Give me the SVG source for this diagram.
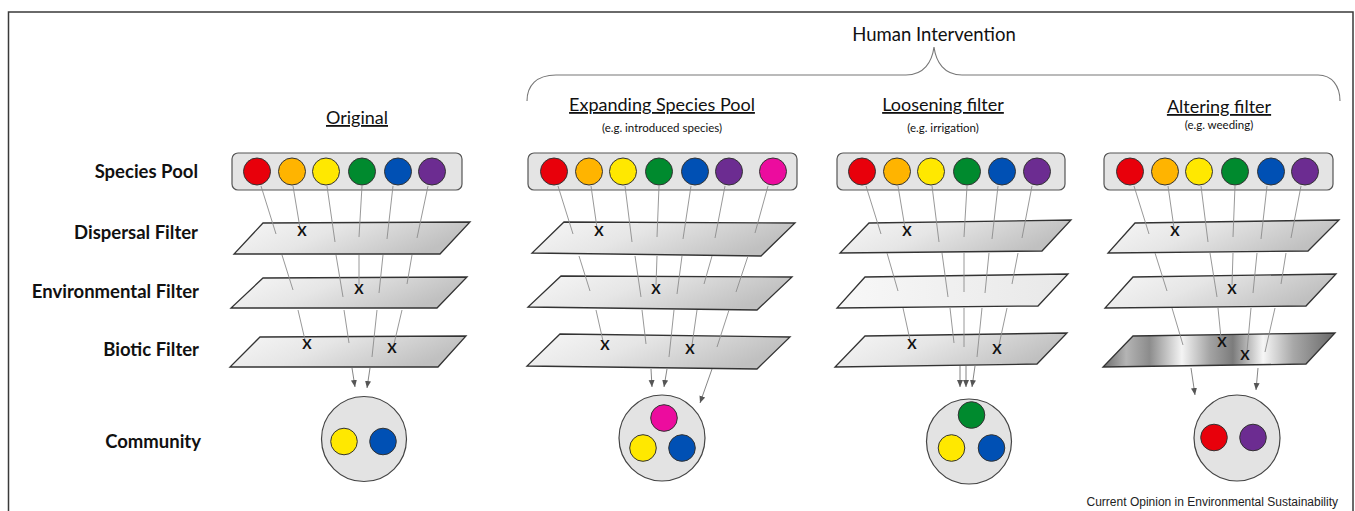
<svg xmlns="http://www.w3.org/2000/svg" width="1355" height="511" viewBox="0 0 1355 511">
<defs>
<linearGradient id="gPlane" x1="0" y1="0" x2="1" y2="0.3">
<stop offset="0" stop-color="#f7f7f7"/><stop offset="0.45" stop-color="#e6e6e6"/><stop offset="1" stop-color="#c0c0c0"/>
</linearGradient>
<linearGradient id="gLight" x1="0" y1="0" x2="1" y2="0">
<stop offset="0" stop-color="#f8f8f8"/><stop offset="1" stop-color="#e8e8e8"/>
</linearGradient>
<linearGradient id="gDark" x1="0" y1="0" x2="1" y2="0">
<stop offset="0" stop-color="#6c6c6c"/><stop offset="0.1" stop-color="#b4b4b4"/><stop offset="0.2" stop-color="#8c8c8c"/><stop offset="0.34" stop-color="#f4f4f4"/><stop offset="0.46" stop-color="#a4a4a4"/><stop offset="0.56" stop-color="#7c7c7c"/><stop offset="0.69" stop-color="#f6f6f6"/><stop offset="0.82" stop-color="#a8a8a8"/><stop offset="1" stop-color="#686868"/>
</linearGradient>
<marker id="ah" markerWidth="8" markerHeight="8" refX="7" refY="4" orient="auto" markerUnits="userSpaceOnUse">
<path d="M0,1 L7,4 L0,7 Z" fill="#555"/>
</marker>
</defs>
<style>
.frame{fill:none;stroke:#3a3a3a;stroke-width:1.5}
.pool{fill:#e4e4e4;stroke:#555;stroke-width:1.2}
.plane{stroke:#333;stroke-width:1.3;fill:url(#gPlane)}
.sp{stroke:#333;stroke-width:1}
.comm{fill:#e3e3e3;stroke:#444;stroke-width:1.2}
.ln{stroke:#8c8c8c;stroke-width:0.9;fill:none}
.ar{stroke:#777;stroke-width:0.9;fill:none;marker-end:url(#ah)}
.x{font-family:Lato,"Liberation Sans",sans-serif;font-weight:bold;font-size:14px;fill:#111;text-anchor:middle}
.row{font-family:Lato,"Liberation Sans",sans-serif;font-weight:bold;font-size:18.5px;fill:#111;text-anchor:end}
.hd{font-family:Lato,"Liberation Sans",sans-serif;font-size:18px;fill:#111;text-anchor:middle;text-decoration:underline}
.sub{font-family:Lato,"Liberation Sans",sans-serif;font-size:11.5px;fill:#111;text-anchor:middle}
.r{fill:#e8000b}.o{fill:#ffb400}.y{fill:#ffe800}.g{fill:#008a2e}.b{fill:#0050b4}.p{fill:#6c2c91}.m{fill:#ec0c9e}
</style>
<rect class="frame" x="8.5" y="12" width="1344.5" height="520"/>

<g id="human-intervention">
<text x="934" y="41" style="font-family:Lato,'Liberation Sans',sans-serif;font-size:18.5px;fill:#111;text-anchor:middle">Human Intervention</text>
<path d="M527,101 C527,86 536,75 556,75 L906,75 C924,75 932,62 934,47 C936,62 944,75 962,75 L1318,75 C1332,75 1340,86 1340,101" fill="none" stroke="#777" stroke-width="1.1"/>
</g>

<g id="row-labels">
<text class="row" x="198" y="178">Species Pool</text>
<text class="row" x="198" y="239">Dispersal Filter</text>
<text class="row" x="199" y="298">Environmental Filter</text>
<text class="row" x="199" y="356">Biotic Filter</text>
<text class="row" x="201" y="448">Community</text>
</g>

<g id="headers">
<text class="hd" x="357" y="124">Original</text>
<text class="hd" x="662" y="111">Expanding Species Pool</text>
<text class="sub" x="662" y="132">(e.g. introduced species)</text>
<text class="hd" x="943" y="111">Loosening filter</text>
<text class="sub" x="943" y="132">(e.g. irrigation)</text>
<text class="hd" x="1219" y="113">Altering filter</text>
<text class="sub" x="1219" y="129">(e.g. weeding)</text>
</g>

<!-- Panel 1: Original -->
<g id="p1-pool">
<rect class="pool" x="232" y="153" width="230" height="37" rx="6"/>
<circle class="sp r" cx="257" cy="171.5" r="13.5"/><circle class="sp o" cx="292" cy="171.5" r="13.5"/><circle class="sp y" cx="326" cy="171.5" r="13.5"/><circle class="sp g" cx="362" cy="171.5" r="13.5"/><circle class="sp b" cx="398" cy="171.5" r="13.5"/><circle class="sp p" cx="432" cy="171.5" r="13.5"/>
</g>
<g id="p1-dispersal"><polygon class="plane" points="263,223 470,222 440,254 234,254"/></g>
<g id="p1-environmental"><polygon class="plane" points="263,278 467,277 437,308 231,308"/></g>
<g id="p1-biotic"><polygon class="plane" points="260,337 466,336 438,367 230,367"/></g>
<g id="p1-community">
<circle class="comm" cx="364" cy="439" r="42.5"/>
<circle class="sp y" cx="344" cy="441.5" r="13.3"/><circle class="sp b" cx="383" cy="441.5" r="13.3"/>
</g>

<!-- Panel 2 -->
<g id="p2-pool">
<rect class="pool" x="528" y="153" width="269" height="37" rx="6"/>
<circle class="sp r" cx="554" cy="171.5" r="13.5"/><circle class="sp o" cx="589" cy="171.5" r="13.5"/><circle class="sp y" cx="623" cy="171.5" r="13.5"/><circle class="sp g" cx="659" cy="171.5" r="13.5"/><circle class="sp b" cx="695" cy="171.5" r="13.5"/><circle class="sp p" cx="729" cy="171.5" r="13.5"/><circle class="sp m" cx="773" cy="171.5" r="13.5"/>
</g>
<g id="p2-dispersal"><polygon class="plane" points="564,222 795,223 761,256 532,253"/></g>
<g id="p2-environmental"><polygon class="plane" points="561,276 792,277 757,310 528,307"/></g>
<g id="p2-biotic"><polygon class="plane" points="560,334 790,337 757,369 527,366"/></g>
<g id="p2-community">
<circle class="comm" cx="662" cy="438" r="43"/>
<circle class="sp m" cx="664" cy="418" r="13.3"/><circle class="sp y" cx="643" cy="448" r="13.3"/><circle class="sp b" cx="682" cy="448" r="13.3"/>
</g>

<!-- Panel 3 -->
<g id="p3-pool">
<rect class="pool" x="837" y="153" width="228" height="37" rx="6"/>
<circle class="sp r" cx="862" cy="171.5" r="13.5"/><circle class="sp o" cx="897" cy="171.5" r="13.5"/><circle class="sp y" cx="931" cy="171.5" r="13.5"/><circle class="sp g" cx="967" cy="171.5" r="13.5"/><circle class="sp b" cx="1002" cy="171.5" r="13.5"/><circle class="sp p" cx="1037" cy="171.5" r="13.5"/>
</g>
<g id="p3-dispersal"><polygon class="plane" points="869,223 1071,220 1042,251 840,253"/></g>
<g id="p3-environmental"><polygon class="plane" style="fill:url(#gLight)" points="865,277 1068,274 1038,306 837,308"/></g>
<g id="p3-biotic"><polygon class="plane" points="865,336 1067,333 1037,364 835,367"/></g>
<g id="p3-community">
<circle class="comm" cx="969" cy="441.5" r="42.5"/>
<circle class="sp g" cx="971.5" cy="415" r="13.3"/><circle class="sp y" cx="951.5" cy="448" r="13.3"/><circle class="sp b" cx="991.5" cy="448" r="13.3"/>
</g>

<!-- Panel 4 -->
<g id="p4-pool">
<rect class="pool" x="1104" y="153" width="229" height="37" rx="6"/>
<circle class="sp r" cx="1130" cy="171.5" r="13.5"/><circle class="sp o" cx="1165" cy="171.5" r="13.5"/><circle class="sp y" cx="1199" cy="171.5" r="13.5"/><circle class="sp g" cx="1235" cy="171.5" r="13.5"/><circle class="sp b" cx="1271" cy="171.5" r="13.5"/><circle class="sp p" cx="1305" cy="171.5" r="13.5"/>
</g>
<g id="p4-dispersal"><polygon class="plane" points="1135,223 1339,220 1308,251 1108,253"/></g>
<g id="p4-environmental"><polygon class="plane" points="1133,277 1336,274 1306,306 1105,308"/></g>
<g id="p4-biotic"><polygon class="plane" style="fill:url(#gDark)" points="1133,336 1335,333 1306,364 1103,367"/></g>
<g id="p4-community">
<circle class="comm" cx="1237" cy="438" r="43"/>
<circle class="sp r" cx="1214" cy="437.5" r="13.3"/><circle class="sp p" cx="1253" cy="437.5" r="13.3"/>
</g>

<g id="connectors">
<!-- panel 1 -->
<path class="ln" d="M261,186 L276,234 M293,186 L300,228 M327,186 L335,242 M362,186 L359,237 M393,186 L387,239 M428,186 L417,238"/>
<path class="ln" d="M282,255 L293,290 M336,255 L343,297 M359,255 L359,285 M383,255 L379,293 M412,255 L407,284"/>
<path class="ln" d="M298,310 L305,340 M344,310 L349,343 M377,310 L372,357 M402,310 L394,344"/>
<path class="ar" d="M352,368 L355,387"/><path class="ar" d="M370,368 L367,388"/>
<!-- panel 2 -->
<path class="ln" d="M558,186 L573,234 M591,186 L597,228 M625,186 L632,242 M659,186 L657,237 M691,186 L683,239 M725,186 L715,238 M768,186 L755,233"/>
<path class="ln" d="M579,256 L590,291 M635,256 L641,297 M657,256 L656,285 M682,256 L677,294 M712,256 L704,284 M748,256 L736,292"/>
<path class="ln" d="M596,310 L603,341 M642,310 L646,344 M674,310 L669,357 M697,310 L692,345 M729,310 L717,347"/>
<path class="ar" d="M651,369 L652,387"/><path class="ar" d="M667,369 L664,387"/><path class="ar" d="M712,369 L700,403"/>
<!-- panel 3 -->
<path class="ln" d="M866,186 L881,234 M898,186 L905,228 M932,186 L939,242 M967,186 L964,237 M998,186 L992,239 M1032,186 L1022,238"/>
<path class="ln" d="M887,253 L898,291 M942,253 L948,297 M964,253 L964,292 M989,253 L985,293 M1018,253 L1012,284"/>
<path class="ln" d="M903,308 L910,340 M950,308 L954,343 M964,308 L964,347 M982,308 L977,357 M1007,308 L999,345"/>
<path class="ar" d="M960,366 L960,387"/><path class="ar" d="M966,366 L966,387"/><path class="ar" d="M975,366 L972,387"/>
<!-- panel 4 -->
<path class="ln" d="M1134,186 L1149,234 M1168,186 L1174,228 M1201,186 L1208,242 M1235,186 L1233,237 M1267,186 L1261,239 M1301,186 L1291,238"/>
<path class="ln" d="M1155,253 L1167,291 M1210,253 L1217,297 M1233,253 L1232,285 M1257,253 L1253,293 M1286,253 L1281,284"/>
<path class="ln" d="M1172,308 L1183,345 M1218,308 L1221,338 M1251,308 L1247,351 M1275,308 L1265,352"/>
<path class="ar" d="M1191,368 L1195,395"/><path class="ar" d="M1258,368 L1256,390"/>
</g>

<g id="x-marks">
<text class="x" x="302" y="236">X</text>
<text class="x" x="359" y="294">X</text>
<text class="x" x="307" y="349">X</text>
<text class="x" x="392" y="353">X</text>
<text class="x" x="599" y="236">X</text>
<text class="x" x="656" y="294">X</text>
<text class="x" x="605" y="350">X</text>
<text class="x" x="690" y="354">X</text>
<text class="x" x="907" y="236">X</text>
<text class="x" x="912" y="349">X</text>
<text class="x" x="997" y="354">X</text>
<text class="x" x="1175" y="236">X</text>
<text class="x" x="1232" y="294">X</text>
<text class="x" x="1222" y="347">X</text>
<text class="x" x="1245" y="360">X</text>
</g>

<text x="1338" y="506" style="font-family:'Liberation Sans',Arial,sans-serif;font-size:12px;fill:#222;text-anchor:end">Current Opinion in Environmental Sustainability</text>
</svg>
